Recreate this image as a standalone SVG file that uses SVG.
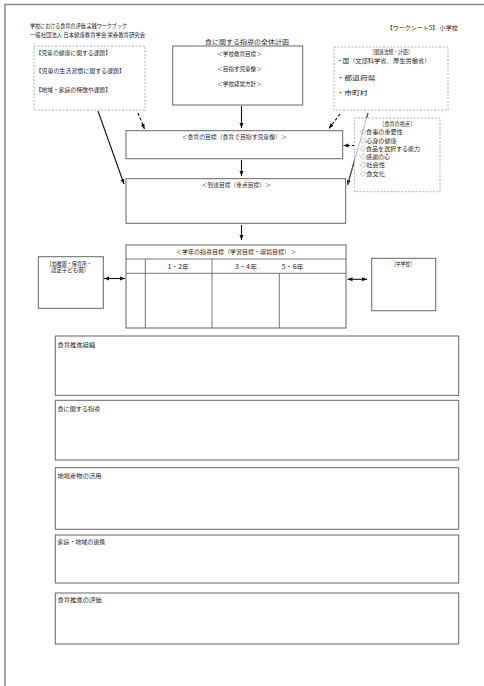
<svg xmlns="http://www.w3.org/2000/svg" width="484" height="686" viewBox="0 0 484 686">
<style>
text{font-family:"Noto Sans CJK JP","Noto Sans",sans-serif;fill:#222;dominant-baseline:central;font-size:5.6px}
.box{fill:#fff;stroke:#666;stroke-width:1}
.dbox{fill:#fff;stroke:#999;stroke-width:0.8;stroke-dasharray:2,1.5}
.ln{stroke:#555;stroke-width:0.8;fill:none}
.ar{stroke:#111;stroke-width:1.1;fill:none}
.da{stroke:#111;stroke-width:1.1;fill:none;stroke-dasharray:3,2}
.m{text-anchor:middle}
</style>
<defs>
<marker id="ah" viewBox="0 0 10 10" refX="10" refY="5" markerWidth="5" markerHeight="5" orient="auto-start-reverse" markerUnits="userSpaceOnUse"><path d="M0,1 L10,5 L0,9 z" fill="#111"/></marker>
</defs>
<rect width="484" height="686" fill="#fff"/>
<g id="page">
<line x1="4.5" y1="4.6" x2="484" y2="4.6" stroke="#888" stroke-width="1.5"/>
<line x1="5" y1="4" x2="5" y2="686" stroke="#888" stroke-width="1.5"/>
<text x="30" y="26" font-size="4.8" textLength="97" lengthAdjust="spacingAndGlyphs">学校における食育の評価 実践ワークブック</text>
<text x="30" y="34.7" font-size="4.8" textLength="115" lengthAdjust="spacingAndGlyphs">一般社団法人 日本健康教育学会 栄養教育研究会</text>
<text x="386.7" y="28" font-size="5.6" textLength="71" lengthAdjust="spacingAndGlyphs">【ワークシート5】 小学校</text>
</g>
<g id="connectors">
<line class="ar" x1="241.5" y1="106" x2="241.5" y2="128" marker-end="url(#ah)"/>
<line class="ar" x1="241.5" y1="160" x2="241.5" y2="176" marker-end="url(#ah)"/>
<line class="ar" x1="241.5" y1="225" x2="241.5" y2="240" marker-end="url(#ah)"/>
<line class="ar" x1="98" y1="111" x2="124" y2="184" marker-end="url(#ah)"/>
<line class="ar" x1="368" y1="113" x2="347.5" y2="185" marker-end="url(#ah)"/>
<line class="da" x1="138" y1="113" x2="144.5" y2="129" marker-end="url(#ah)"/>
<line class="da" x1="340" y1="114" x2="329" y2="128.5" marker-end="url(#ah)"/>
<line class="da" x1="355" y1="145.5" x2="343.5" y2="145.5" marker-end="url(#ah)"/>
<line class="ar" x1="104" y1="278.5" x2="125" y2="278.5" marker-start="url(#ah)" marker-end="url(#ah)"/>
<line class="ar" x1="347.5" y1="279.3" x2="367" y2="279.3" marker-start="url(#ah)" marker-end="url(#ah)"/>
</g>
<g id="issues">
<rect class="dbox" x="34" y="46" width="111" height="64"/>
<text x="35.5" y="53" textLength="75.5" lengthAdjust="spacingAndGlyphs" font-size="6">【児童の健康に関する課題】</text>
<text x="35.5" y="71" textLength="89.5" lengthAdjust="spacingAndGlyphs" font-size="6">【児童の生活習慣に関する課題】</text>
<text x="35.5" y="90" textLength="75.5" lengthAdjust="spacingAndGlyphs" font-size="6">【地域・家庭の特徴や課題】</text>
</g>
<g id="plan">
<text x="205" y="42" font-size="7" textLength="84" lengthAdjust="spacingAndGlyphs">食に関する指導の全体計画</text>
<rect class="box" x="172.7" y="46" width="130" height="59"/>
<text x="217.3" y="54" textLength="44.4" lengthAdjust="spacingAndGlyphs">＜学校教育目標＞</text>
<text x="217.3" y="69" textLength="44.4" lengthAdjust="spacingAndGlyphs">＜目指す児童像＞</text>
<text x="217.3" y="84" textLength="44.4" lengthAdjust="spacingAndGlyphs">＜学校経営方針＞</text>
</g>
<g id="laws">
<rect class="dbox" x="334" y="47" width="114" height="63"/>
<text x="369.5" y="52" font-size="5.2" textLength="43" lengthAdjust="spacingAndGlyphs">［関連法規・計画］</text>
<text x="336.5" y="61" font-size="5.8" textLength="94" lengthAdjust="spacingAndGlyphs">・国（文部科学省、厚生労働省）</text>
<text x="336.5" y="78" font-size="5.8" textLength="39" lengthAdjust="spacingAndGlyphs">・都道府県</text>
<text x="336.5" y="93" font-size="5.8" textLength="31" lengthAdjust="spacingAndGlyphs">・市町村</text>
</g>
<g id="goal">
<rect class="box" x="126" y="130.7" width="216.7" height="28"/>
<text x="181.7" y="137" textLength="105" lengthAdjust="spacingAndGlyphs">＜食育の目標（食育で目指す児童像）＞</text>
</g>
<g id="viewpoints">
<rect class="dbox" x="354.3" y="118" width="85.7" height="73.7"/>
<line x1="368" y1="113" x2="347.5" y2="185" stroke="#888" stroke-width="0.6"/>
<text x="379.3" y="124" font-size="5.2" textLength="35.7" lengthAdjust="spacingAndGlyphs">［食育の視点］</text>
<text x="360" y="132.3" font-size="6" textLength="42.7" lengthAdjust="spacingAndGlyphs">◇食事の重要性</text>
<text x="360" y="140.7" font-size="6" textLength="36.7" lengthAdjust="spacingAndGlyphs">◇心身の健康</text>
<text x="360" y="148.7" font-size="6" textLength="60" lengthAdjust="spacingAndGlyphs">◇食品を選択する能力</text>
<text x="360" y="157" font-size="6" textLength="30" lengthAdjust="spacingAndGlyphs">◇感謝の心</text>
<text x="360" y="165.3" font-size="6" textLength="25" lengthAdjust="spacingAndGlyphs">◇社会性</text>
<text x="360" y="174" font-size="6" textLength="25" lengthAdjust="spacingAndGlyphs">◇食文化</text>
</g>
<g id="target">
<rect class="box" x="126" y="178.7" width="219.7" height="44.6"/>
<text x="201.7" y="185" textLength="69" lengthAdjust="spacingAndGlyphs">＜到達目標（重点目標）＞</text>
</g>
<g id="grade">
<rect class="box" x="126" y="245" width="220" height="83"/>
<line class="ln" x1="126" y1="259" x2="346" y2="259"/>
<line class="ln" x1="126" y1="273.3" x2="346" y2="273.3"/>
<line class="ln" x1="145.3" y1="259" x2="145.3" y2="328"/>
<line class="ln" x1="212" y1="259" x2="212" y2="328"/>
<line class="ln" x1="279.3" y1="273.3" x2="279.3" y2="328"/>
<text x="176" y="251.7" textLength="120" lengthAdjust="spacingAndGlyphs">＜学年の指導目標（学習目標・環境目標）＞</text>
<text x="167.7" y="266.7" font-size="6.5" textLength="21" lengthAdjust="spacingAndGlyphs">1・2年</text>
<text x="235" y="266.7" font-size="6.5" textLength="22" lengthAdjust="spacingAndGlyphs">3・4年</text>
<text x="281.7" y="266.7" font-size="6.5" textLength="22" lengthAdjust="spacingAndGlyphs">5・6年</text>
</g>
<g id="preschool">
<rect class="box" x="38.3" y="256.7" width="65" height="51.6"/>
<text x="46.7" y="263.6" font-size="4.8" textLength="45" lengthAdjust="spacingAndGlyphs">［幼稚園・保育所・</text>
<text x="51" y="270.2" font-size="4.8" textLength="38" lengthAdjust="spacingAndGlyphs">認定子ども園］</text>
</g>
<g id="junior">
<rect class="box" x="371.7" y="258.3" width="64" height="52.4"/>
<text x="391.5" y="264" font-size="5.2" textLength="23" lengthAdjust="spacingAndGlyphs">［中学校］</text>
</g>
<g id="org">
<rect class="box" x="55.3" y="336" width="403.4" height="59.3"/>
<text x="57.5" y="345" font-size="6.2" textLength="37.7" lengthAdjust="spacingAndGlyphs">食育推進組織</text>
</g>
<g id="guidance">
<rect class="box" x="55.3" y="400.3" width="403.4" height="59.7"/>
<text x="57.5" y="409.3" font-size="6.2" textLength="42.7" lengthAdjust="spacingAndGlyphs">食に関する指導</text>
</g>
<g id="local">
<rect class="box" x="55.3" y="467.7" width="403.4" height="61.6"/>
<text x="57.5" y="475.7" font-size="6.2" textLength="44" lengthAdjust="spacingAndGlyphs">地場産物の活用</text>
</g>
<g id="family">
<rect class="box" x="55.3" y="535" width="403.4" height="48"/>
<text x="57.5" y="542.3" font-size="6.2" textLength="47.7" lengthAdjust="spacingAndGlyphs">家庭・地域の連携</text>
</g>
<g id="evaluation">
<rect class="box" x="55.3" y="593" width="403.4" height="51"/>
<text x="57.5" y="599.7" font-size="6.2" textLength="44" lengthAdjust="spacingAndGlyphs">食育推進の評価</text>
</g>
</svg>
